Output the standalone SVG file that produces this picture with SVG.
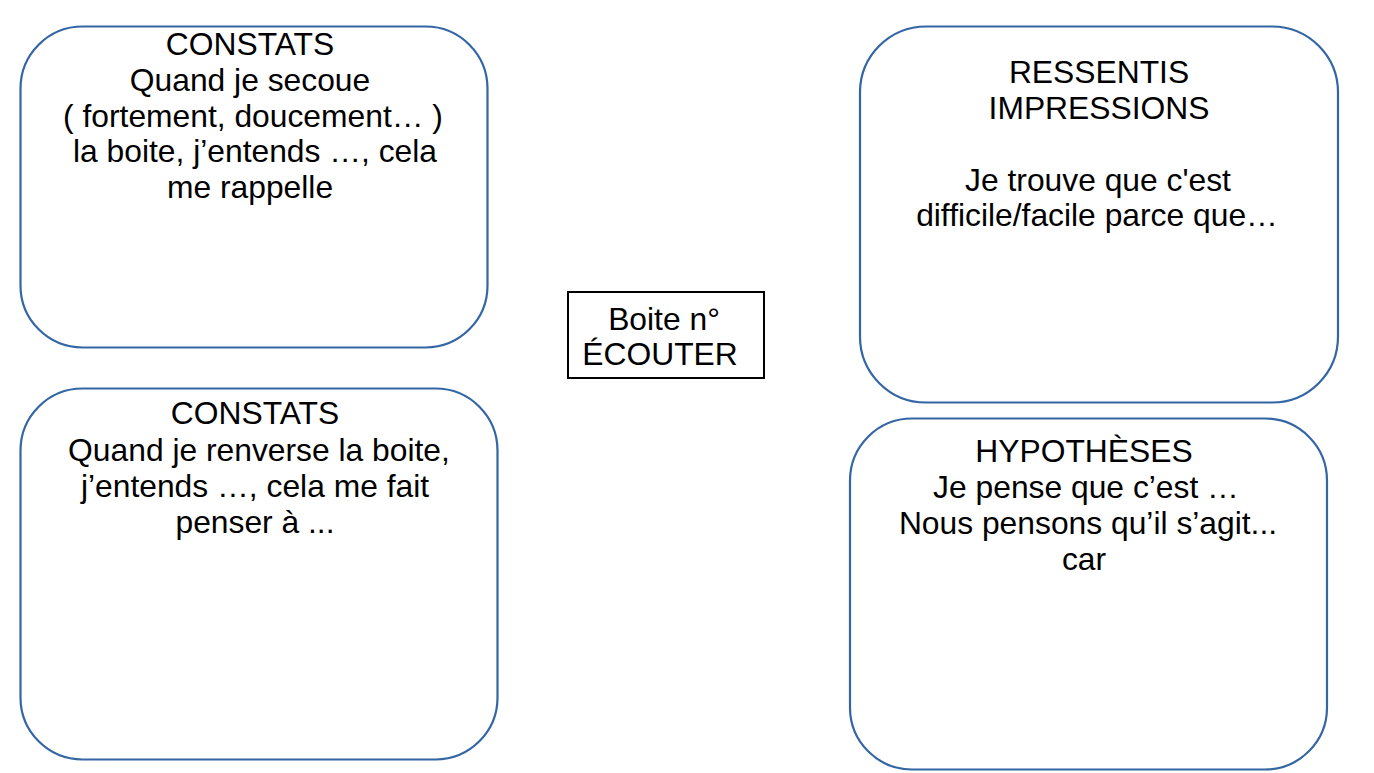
<svg xmlns="http://www.w3.org/2000/svg" width="1374" height="773" viewBox="0 0 1374 773">
<style>
.box{fill:#ffffff;stroke:#3465a4;stroke-width:2.2}
.ctr{fill:#ffffff;stroke:#000000;stroke-width:2}
text{font-family:"Liberation Sans",Arial,sans-serif;font-size:31.8px;fill:#000000;text-anchor:middle}
</style>
<rect width="1374" height="773" fill="#ffffff"/>
<g id="connectors"></g>
<g id="constats-secoue">
<rect class="box" x="20.5" y="26.5" width="467" height="321" rx="62" ry="62"/>
<text x="250" y="55">CONSTATS</text>
<text x="250" y="91">Quand je secoue</text>
<text x="253" y="127">( fortement, doucement… )</text>
<text x="255" y="162">la boite, j’entends …, cela</text>
<text x="250" y="198">me rappelle</text>
</g>
<g id="constats-renverse">
<rect class="box" x="20.5" y="388.5" width="477" height="371" rx="62" ry="62"/>
<text x="255" y="424">CONSTATS</text>
<text x="259" y="461">Quand je renverse la boite,</text>
<text x="255" y="497">j’entends …, cela me fait</text>
<text x="255" y="533">penser à ...</text>
</g>
<g id="boite">
<rect class="ctr" x="568" y="292" width="196" height="86"/>
<text x="664" y="330">Boite n°</text>
<text x="660" y="365">ÉCOUTER</text>
</g>
<g id="ressentis">
<rect class="box" x="860" y="26.5" width="478" height="376" rx="66" ry="66"/>
<text x="1099" y="83">RESSENTIS</text>
<text x="1099" y="119">IMPRESSIONS</text>
<text x="1098" y="191">Je trouve que c'est</text>
<text x="1097" y="226">difficile/facile parce que…</text>
</g>
<g id="hypotheses">
<rect class="box" x="850" y="418.5" width="477" height="351" rx="62" ry="62"/>
<text x="1084" y="462">HYPOTHÈSES</text>
<text x="1086" y="498">Je pense que c’est …</text>
<text x="1088" y="534">Nous pensons qu’il s’agit...</text>
<text x="1084" y="570">car</text>
</g>
</svg>
